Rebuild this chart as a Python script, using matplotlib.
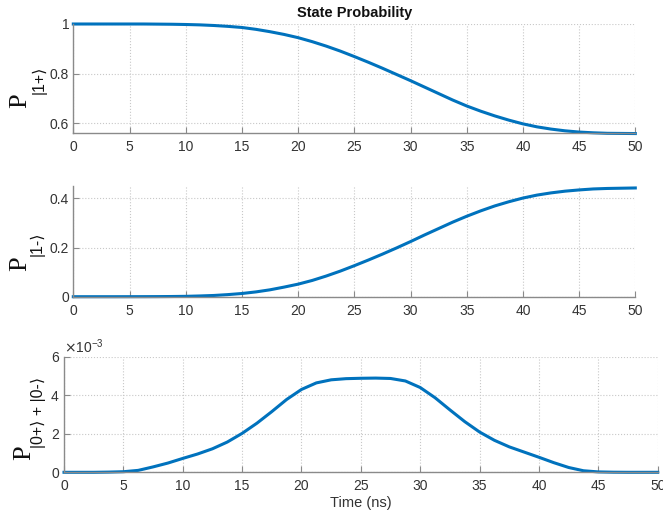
import matplotlib
matplotlib.use("Agg")
import matplotlib.pyplot as plt
import numpy as np
from matplotlib.ticker import ScalarFormatter

plt.rcParams["font.family"] = ["Liberation Sans", "DejaVu Sans"]
plt.rcParams["axes.unicode_minus"] = False

# values (time in ns)
t_main = [0, 1.25, 2.5, 3.75, 5, 6.25, 7.5, 8.75, 10, 11.25, 12.5, 13.75,
          15, 16.25, 17.5, 18.75, 20, 21.25, 22.5, 23.75, 25, 26.25, 27.5,
          28.75, 30, 31.25, 32.5, 33.75, 35, 36.25, 37.5, 38.75, 40, 41.25,
          42.5, 43.75, 45, 46.25, 47.5, 48.75, 50]
p_1plus = [1.000, 1.000, 1.000, 1.000, 1.000, 1.000, 0.9995, 0.999, 0.998,
           0.9965, 0.994, 0.9905, 0.986, 0.9785, 0.969, 0.958, 0.945, 0.929,
           0.911, 0.891, 0.869, 0.846, 0.822, 0.797, 0.772, 0.746, 0.720,
           0.694, 0.670, 0.649, 0.630, 0.613, 0.598, 0.586, 0.577, 0.570,
           0.565, 0.562, 0.560, 0.5595, 0.559]
p_1minus = [0.0, 0.0, 0.0, 0.0, 0.0001, 0.0002, 0.0004, 0.0008, 0.0015,
            0.003, 0.005, 0.0085, 0.013, 0.0195, 0.028, 0.039, 0.051, 0.066,
            0.084, 0.104, 0.126, 0.149, 0.173, 0.198, 0.224, 0.251, 0.277,
            0.303, 0.327, 0.349, 0.369, 0.386, 0.401, 0.413, 0.422, 0.429,
            0.434, 0.438, 0.440, 0.441, 0.442]

t_leak = [0, 1.25, 2.5, 3.75, 5, 6.25, 7.5, 8.75, 10, 11.25, 12.5, 13.75,
          15, 16.25, 17.5, 18.75, 20, 21.25, 22.5, 23.75, 25, 26.25, 27.5,
          28.75, 30, 31.25, 32.5, 33.75, 35, 36.25, 37.5, 38.75, 40, 41.25,
          42.5, 43.75, 45, 46.25, 47.5, 48.75, 50]
# leakage population, in units of 1e-3
p_leak_e3 = [0.0, 0.0, 0.0, 0.01, 0.03, 0.10, 0.28, 0.48, 0.72, 0.95, 1.22,
             1.57, 2.02, 2.55, 3.15, 3.78, 4.30, 4.64, 4.80, 4.86, 4.88,
             4.89, 4.87, 4.74, 4.40, 3.87, 3.24, 2.63, 2.09, 1.66, 1.32,
             1.05, 0.78, 0.50, 0.25, 0.08, 0.02, 0.005, 0.0, 0.0, 0.0]

x_ticks = [0, 5, 10, 15, 20, 25, 30, 35, 40, 45, 50]
top_ticks = [0.6, 0.8, 1.0]
top_ticklabels = ["0.6", "0.8", "1"]
mid_ticks = [0.0, 0.2, 0.4]
mid_ticklabels = ["0", "0.2", "0.4"]
bot_ticks = [0, 0.002, 0.004, 0.006]

LINE = "#0072BD"
SPINE = "#8a8a8a"
TEXT = "#333333"
W, H = 663, 525


def px_rect(x0, y0, x1, y1):
    return [x0 / W, 1 - y1 / H, (x1 - x0) / W, (y1 - y0) / H]


def style(ax):
    for side in ("top", "right"):
        ax.spines[side].set_visible(False)
    for side in ("left", "bottom"):
        ax.spines[side].set_color(SPINE)
        ax.spines[side].set_linewidth(1.0)
    ax.tick_params(direction="in", length=4, width=0.8, color=SPINE,
                   labelcolor=TEXT, labelsize=10)
    ax.tick_params(axis="x", pad=5)
    ax.tick_params(axis="y", pad=3)
    ax.grid(True, linestyle=":", color="#c8c8c8", linewidth=0.8)
    ax.set_axisbelow(True)
    ax.set_xlim(0, 50)
    ax.set_xticks(x_ticks)


fig = plt.figure(figsize=(W / 100, H / 100), dpi=100)

ax1 = fig.add_axes(px_rect(73.3, 24, 635.3, 133.3))
ax1.plot(t_main, p_1plus, color=LINE, linewidth=2.2, clip_on=False)
style(ax1)
ax1.set_ylim(0.56, 1.0)
ax1.set_yticks(top_ticks)
ax1.set_yticklabels(top_ticklabels)
ax1.set_title("State Probability", fontsize=10.5, fontweight="bold",
              color="#111111", pad=5)

ax2 = fig.add_axes(px_rect(73.3, 186, 635.3, 296.7))
ax2.plot(t_main, p_1minus, color=LINE, linewidth=2.2, clip_on=False)
style(ax2)
ax2.set_ylim(0, 0.45)
ax2.set_yticks(mid_ticks)
ax2.set_yticklabels(mid_ticklabels)

ax3 = fig.add_axes(px_rect(64, 356.7, 657.7, 472.3))
ax3.plot(t_leak, np.array(p_leak_e3) * 1e-3, color=LINE, linewidth=2.2,
         clip_on=False)
style(ax3)
ax3.set_ylim(0, 0.006)
ax3.set_yticks(bot_ticks)
fmt = ScalarFormatter(useMathText=True)
fmt.set_powerlimits((-2, 2))
ax3.yaxis.set_major_formatter(fmt)
ax3.yaxis.get_offset_text().set_fontsize(10)
ax3.yaxis.get_offset_text().set_color(TEXT)
ax3.set_xlabel("Time (ns)", fontsize=10.5, color=TEXT, labelpad=2)

# y labels: serif "P" with sans ket subscript
labels = [
    ((20.5, 101), (39, 80), "|1+\u27e9"),
    ((20.5, 264), (37, 244), "|1-\u27e9"),
    ((24, 452.5), (38.5, 412.5), "|0+\u27e9 + |0-\u27e9"),
]
for (px, py), (sx, sy), sub in labels:
    fig.text(px / W, 1 - py / H, "P", rotation=90, ha="center", va="center",
             fontsize=19, family="Liberation Serif", color="#111111")
    fig.text(sx / W, 1 - sy / H, sub, rotation=90, ha="center", va="center",
             fontsize=11.5, family=["Liberation Sans", "DejaVu Sans"],
             color="#111111")

fig.savefig("out.png", dpi=100)
